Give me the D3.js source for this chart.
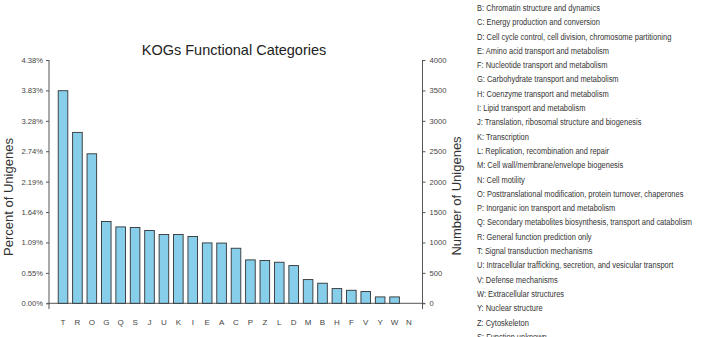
<!DOCTYPE html>
<html><head><meta charset="utf-8">
<script src="https://cdn.jsdelivr.net/npm/d3@7"></script>
<style>body{margin:0;background:#fff}svg{display:block}</style>
</head><body>
<svg id="c" width="706" height="337"></svg>
<script>
const categories = ["T","R","O","G","Q","S","J","U","K","I","E","A","C","P","Z","L","D","M","B","H","F","V","Y","W","N"];
const counts = [3495,2810,2458,1345,1256,1246,1197,1131,1131,1098,993,990,905,714,703,675,620,390,330,242,214,193,105,105,0];
const countTicks = [0,500,1000,1500,2000,2500,3000,3500,4000];
const percentLabels = ["0.00%","0.55%","1.09%","1.64%","2.19%","2.74%","3.28%","3.83%","4.38%"];
const legendItems = [
 "B: Chromatin structure and dynamics",
 "C: Energy production and conversion",
 "D: Cell cycle control, cell division, chromosome partitioning",
 "E: Amino acid transport and metabolism",
 "F: Nucleotide transport and metabolism",
 "G: Carbohydrate transport and metabolism",
 "H: Coenzyme transport and metabolism",
 "I: Lipid transport and metabolism",
 "J: Translation, ribosomal structure and biogenesis",
 "K: Transcription",
 "L: Replication, recombination and repair",
 "M: Cell wall/membrane/envelope biogenesis",
 "N: Cell motility",
 "O: Posttranslational modification, protein turnover, chaperones",
 "P: Inorganic ion transport and metabolism",
 "Q: Secondary metabolites biosynthesis, transport and catabolism",
 "R: General function prediction only",
 "T: Signal transduction mechanisms",
 "U: Intracellular trafficking, secretion, and vesicular transport",
 "V: Defense mechanisms",
 "W: Extracellular structures",
 "Y: Nuclear structure",
 "Z: Cytoskeleton",
 "S: Function unknown"
];

const svg = d3.select("#c");
const font = "'Liberation Sans', Arial, sans-serif";
const leftX = 49, rightX = 422.5, yTop = 60, yZero = 303.3;

const y = d3.scaleLinear().domain([0,4000]).range([yZero, yTop]);
const x = d3.scaleBand().domain(categories).range([58.2, 413.8]).paddingInner(1/3).paddingOuter(0);

// title
svg.append("text").attr("x",234).attr("y",55).attr("text-anchor","middle")
  .attr("font-family",font).attr("font-size",14.5).attr("fill","#222")
  .text("KOGs Functional Categories");

// baseline
svg.append("line").attr("x1",47).attr("x2",425).attr("y1",yZero).attr("y2",yZero)
  .attr("stroke","#555").attr("stroke-width",1);

// bars
svg.append("g").selectAll("rect").data(categories).join("rect")
  .attr("x",d=>x(d)).attr("width",x.bandwidth())
  .attr("y",(d,i)=>y(counts[i])).attr("height",(d,i)=>yZero - y(counts[i]))
  .attr("fill","#87CEEB").attr("stroke","#333").attr("stroke-width",0.9);

// left axis
const la = d3.axisLeft(y).tickValues(countTicks).tickSize(3).tickPadding(3)
  .tickFormat((d,i)=>percentLabels[i]);
const gl = svg.append("g").attr("transform",`translate(${leftX},0)`).call(la);
gl.select(".domain").remove();
gl.append("line").attr("x1",0).attr("x2",0).attr("y1",yTop).attr("y2",309).attr("stroke","#555");
gl.selectAll(".tick line").attr("stroke","#555");
gl.selectAll(".tick text").attr("font-family",font).attr("font-size",7.6).attr("fill","#444");

// right axis
const ra = d3.axisRight(y).tickValues(countTicks).tickSize(3).tickPadding(4).tickFormat(d3.format("d"));
const gr = svg.append("g").attr("transform",`translate(${rightX},0)`).call(ra);
gr.select(".domain").remove();
gr.append("line").attr("x1",0).attr("x2",0).attr("y1",yTop).attr("y2",309).attr("stroke","#555");
gr.selectAll(".tick line").attr("stroke","#555");
gr.selectAll(".tick text").attr("font-family",font).attr("font-size",7.6).attr("fill","#444");

// x labels
svg.append("g").selectAll("text").data(categories).join("text")
  .attr("x",d=>x(d)+x.bandwidth()/2).attr("y",325).attr("text-anchor","middle")
  .attr("font-family",font).attr("font-size",8).attr("fill","#444").text(d=>d);

// axis titles
svg.append("text").attr("transform","translate(13,197) rotate(-90)").attr("text-anchor","middle")
  .attr("font-family",font).attr("font-size",13).attr("fill","#333").text("Percent of Unigenes");
svg.append("text").attr("transform","translate(461,196) rotate(-90)").attr("text-anchor","middle")
  .attr("font-family",font).attr("font-size",13).attr("fill","#333").text("Number of Unigenes");

// legend
svg.append("g").attr("transform","translate(477,0) scale(0.85,1)")
  .selectAll("text").data(legendItems).join("text")
  .attr("x",0).attr("y",(d,i)=>11 + i*14.3)
  .attr("font-family",font)
  .attr("font-size",8.8).attr("fill","#333").text(d=>d);
</script>
</body></html>
